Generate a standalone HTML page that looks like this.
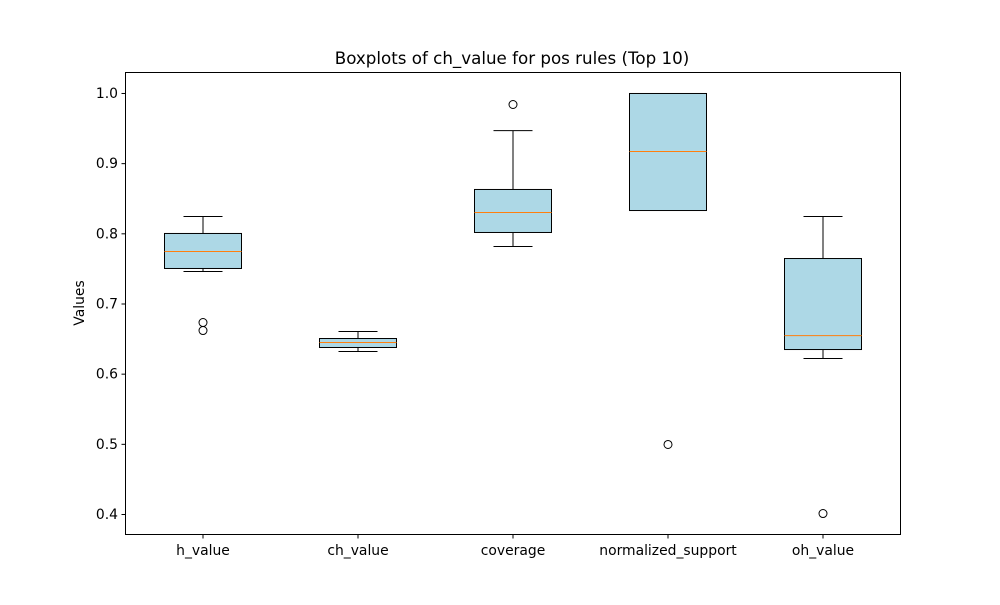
<!DOCTYPE html>
<html><head><meta charset="utf-8"><style>
body{margin:0;background:#fff;}
svg text{font-family:"DejaVu Sans","Liberation Sans",sans-serif;fill:#000;}
</style></head><body>
<svg id="chart" width="1000" height="600" xmlns="http://www.w3.org/2000/svg">
<rect width="1000" height="600" fill="#fff"/>
<text x="512" y="64" font-size="16.7" text-anchor="middle">Boxplots of ch_value for pos rules (Top 10)</text>
<text transform="translate(84,303) rotate(-90)" font-size="13.9" text-anchor="middle">Values</text>
<g id="marks"></g>
<rect x="125.5" y="72.5" width="775" height="462" fill="none" stroke="#000" stroke-width="1"/>
</svg>
<script>
const categories=["h_value","ch_value","coverage","normalized_support","oh_value"];
const whiskerLow=[0.7463,0.6323,0.782,0.8332,0.6223];
const q1=[0.7506,0.638,0.8019,0.8332,0.6351];
const medians=[0.7748,0.6451,0.8304,0.9173,0.655];
const q3=[0.8005,0.6508,0.8632,1.0,0.7648];
const whiskerHigh=[0.8247,0.6608,0.947,1.0,0.8247];
const outliers=[[0.6736,0.6622],[],[0.9843],[0.4998],[0.4014]];
const yTicks=[0.4,0.5,0.6,0.7,0.8,0.9,1.0];
const NS="http://www.w3.org/2000/svg";
const g=document.getElementById('marks');
function y(v){return 514.5-(v-0.4)*701.7;}
function x(i){return 203+i*155;}
function el(t,a){const e=document.createElementNS(NS,t);for(const k in a)e.setAttribute(k,a[k]);g.appendChild(e);return e;}
yTicks.forEach(t=>{
 const l=el('line',{x1:121.5,x2:125.5,y1:y(t),y2:y(t),stroke:'#000'});
 
 
 const tx=el('text',{x:118,y:y(t)+4.5,'font-size':13.9,'text-anchor':'end'});
 tx.textContent=t.toFixed(1);
 
 
});
categories.forEach((c,i)=>{
 const cx=x(i),hw=38.5,cw=19.5;
 const grp=el('g',{});
 
 
 const add=(t,a)=>{const e=el(t,a);grp.appendChild(e);return e;};
 add('line',{x1:cx,x2:cx,y1:y(q3[i]),y2:y(whiskerHigh[i]),stroke:'#000'});
 add('line',{x1:cx,x2:cx,y1:y(q1[i]),y2:y(whiskerLow[i]),stroke:'#000'});
 add('line',{x1:cx-cw,x2:cx+cw,y1:y(whiskerHigh[i]),y2:y(whiskerHigh[i]),stroke:'#000'});
 add('line',{x1:cx-cw,x2:cx+cw,y1:y(whiskerLow[i]),y2:y(whiskerLow[i]),stroke:'#000'});
 add('rect',{x:cx-hw,y:y(q3[i]),width:2*hw,height:Math.max(0,y(q1[i])-y(q3[i])),fill:'#add8e6',stroke:'#000'});
 add('line',{x1:cx-hw,x2:cx+hw,y1:y(medians[i]),y2:y(medians[i]),stroke:'#ff7f0e'});
 outliers[i].forEach(o=>{const ci=add('circle',{cx:cx,cy:y(o),r:4,fill:'none',stroke:'#000'});
  
  });
 const tk=el('line',{x1:cx,x2:cx,y1:534.5,y2:538.5,stroke:'#000'});
 
 
 const tx=el('text',{x:cx,y:555,'font-size':13.9,'text-anchor':'middle'});
 tx.textContent=c;
 
 
});
</script>
</body></html>
